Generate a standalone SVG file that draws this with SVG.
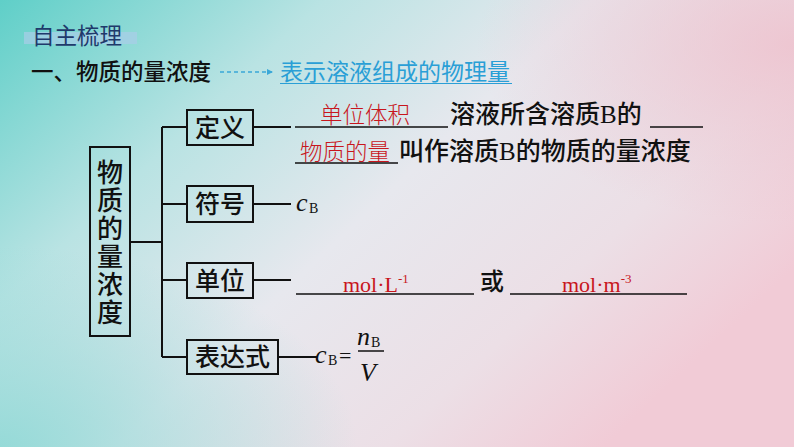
<svg xmlns="http://www.w3.org/2000/svg" width="794" height="447" viewBox="0 0 794 447">
<defs>
<linearGradient id="bg" x1="0" y1="0" x2="1" y2="0.6">
<stop offset="0" stop-color="#5fcfc8"/>
<stop offset="0.3" stop-color="#b9e3e3"/>
<stop offset="0.55" stop-color="#e7e8ee"/>
<stop offset="0.8" stop-color="#ecdfe6"/>
<stop offset="1" stop-color="#f1cbd6"/>
</linearGradient>
<radialGradient id="bl" cx="0" cy="1" r="0.45">
<stop offset="0" stop-color="#8fd9d6" stop-opacity="0.9"/>
<stop offset="1" stop-color="#8fd9d6" stop-opacity="0"/>
</radialGradient>
<radialGradient id="tr" cx="1" cy="0.1" r="0.4">
<stop offset="0" stop-color="#eec0cc" stop-opacity="0.8"/>
<stop offset="1" stop-color="#eec0cc" stop-opacity="0"/>
</radialGradient>
<marker id="ah" markerWidth="6" markerHeight="6" refX="5" refY="3" orient="auto" markerUnits="userSpaceOnUse">
<path d="M0,0 L6,3 L0,6 Z" fill="#3aa8d8"/>
</marker>
<style>
.cjk{font-family:"Noto Sans CJK SC","Noto Sans",sans-serif;}
.blk{fill:#111;}
.red{fill:#c8161d;}
.box{fill:none;stroke:#111;stroke-width:2;}
.ln{stroke:#111;stroke-width:2;fill:none;}
.ul{stroke:#111;stroke-width:1.6;}
.ser{font-family:"Liberation Serif","DejaVu Serif",serif;}
</style>
</defs>
<rect width="794" height="447" fill="url(#bg)"/>
<rect width="794" height="447" fill="url(#bl)"/>
<rect width="794" height="447" fill="url(#tr)"/>

<g id="title">
<rect x="24" y="32" width="113" height="12" fill="#a9cde8" opacity="0.7"/>
<text x="32" y="44" class="cjk" font-size="22.5" fill="#1f3a6b">自主梳理</text>
</g>
<g id="heading">
<text x="31" y="80" class="cjk blk" font-size="22.5" font-weight="500">一、物质的量浓度</text>
<line x1="220" y1="72" x2="272" y2="72" stroke="#3aa8d8" stroke-width="1.3" stroke-dasharray="4,3" marker-end="url(#ah)"/>
<text x="280" y="80" class="cjk" font-size="23" fill="#2a9fd6">表示溶液组成的物理量</text>
<line x1="280" y1="83.5" x2="512" y2="83.5" stroke="#2a9fd6" stroke-width="1.2"/>
</g>

<g id="connectors">
<path class="ln" d="M130,242 H162 M162,127 V357 M162,127 H187 M162,204 H187 M162,280 H187 M162,357 H187 M253,127 H291 M253,204 H291 M253,280 H291 M278,357 H317"/>
</g>

<g id="root">
<rect class="box" x="90" y="147" width="40" height="189"/>
<text x="110" y="159" class="cjk blk" font-size="26" font-weight="500" writing-mode="vertical-rl" letter-spacing="2">物质的量浓度</text>
</g>

<g id="n-def">
<rect class="box" x="187" y="110" width="66" height="35"/>
<text x="220" y="137" class="cjk blk" font-size="25" font-weight="500" text-anchor="middle">定义</text>
</g>
<g id="n-sym">
<rect class="box" x="187" y="186" width="66" height="36"/>
<text x="220" y="213" class="cjk blk" font-size="25" font-weight="500" text-anchor="middle">符号</text>
</g>
<g id="n-unit">
<rect class="box" x="187" y="263" width="66" height="35"/>
<text x="220" y="290" class="cjk blk" font-size="25" font-weight="500" text-anchor="middle">单位</text>
</g>
<g id="n-expr">
<rect class="box" x="187" y="340" width="91" height="34"/>
<text x="232.5" y="366" class="cjk blk" font-size="25" font-weight="500" text-anchor="middle">表达式</text>
</g>

<g id="def-text">
<line class="ul" x1="295" y1="127" x2="448" y2="127"/>
<text x="320" y="123" class="cjk red" font-size="22.5" font-weight="300">单位体积</text>
<text x="450" y="123" class="cjk blk" font-size="25" font-weight="500"><tspan>溶液所含溶质</tspan><tspan class="ser" font-size="25" font-weight="400">B</tspan><tspan>的</tspan></text>
<line class="ul" x1="650" y1="127" x2="703" y2="127"/>
<line class="ul" x1="295" y1="163" x2="398" y2="163"/>
<text x="300" y="160" class="cjk red" font-size="22.5" font-weight="300">物质的量</text>
<text x="399" y="160" class="cjk blk" font-size="25" font-weight="500"><tspan>叫作溶质</tspan><tspan class="ser" font-size="25" font-weight="400">B</tspan><tspan>的物质的量浓度</tspan></text>
</g>

<g id="sym-text">
<text x="296" y="211" class="ser blk" font-size="26" font-style="italic">c</text>
<text x="309" y="213" class="ser blk" font-size="14">B</text>
</g>

<g id="unit-text">
<line class="ul" x1="296" y1="294" x2="474" y2="294"/>
<text x="343" y="292" class="ser red" font-size="22">mol·L<tspan font-size="13" dy="-9">-1</tspan></text>
<text x="480" y="290" class="cjk blk" font-size="24" font-weight="500">或</text>
<line class="ul" x1="510" y1="294" x2="687" y2="294"/>
<text x="562" y="292" class="ser red" font-size="22">mol·m<tspan font-size="13" dy="-9">-3</tspan></text>
</g>

<g id="expr-text">
<text x="315" y="363" class="ser blk" font-size="26" font-style="italic">c</text>
<text x="328" y="365" class="ser blk" font-size="14">B</text>
<text x="339" y="363" class="ser blk" font-size="22">=</text>
<text x="357" y="345" class="ser blk" font-size="26" font-style="italic">n</text>
<text x="371" y="347" class="ser blk" font-size="14">B</text>
<line x1="358" y1="351" x2="384" y2="351" stroke="#111" stroke-width="1.5"/>
<text x="360" y="381" class="ser blk" font-size="26" font-style="italic">V</text>
</g>
</svg>
